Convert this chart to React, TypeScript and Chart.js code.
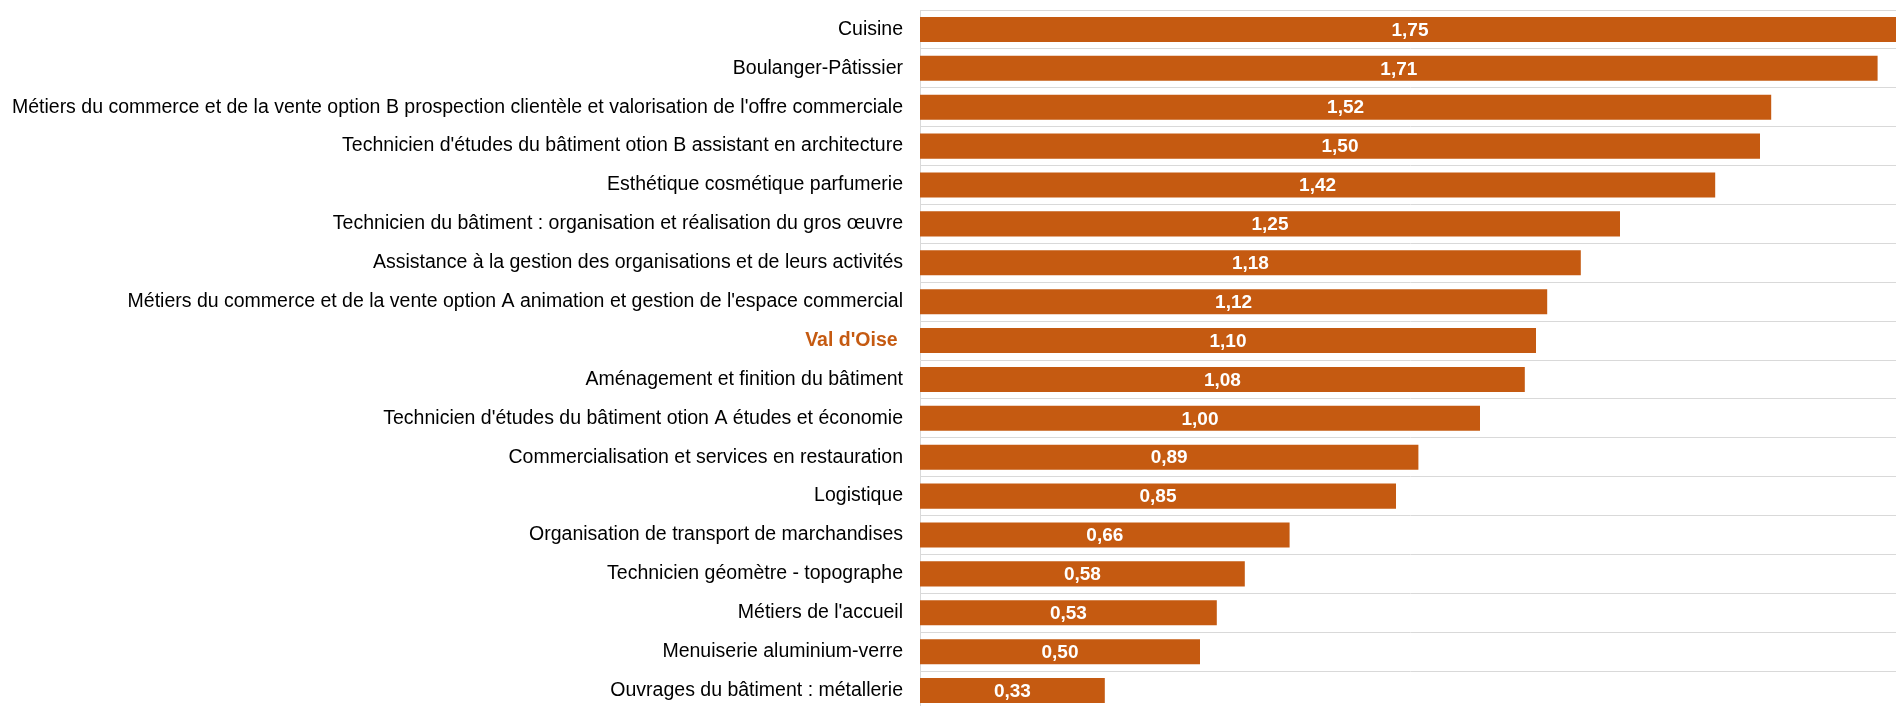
import React, { useEffect, useRef } from "react";
import { Chart, registerables } from "chart.js";

Chart.register(...registerables);

const categories: string[] = [
  "Cuisine",
  "Boulanger-Pâtissier",
  "Métiers du commerce et de la vente option B prospection clientèle et valorisation de l'offre commerciale",
  "Technicien d'études du bâtiment otion B assistant en architecture",
  "Esthétique cosmétique parfumerie",
  "Technicien du bâtiment : organisation et réalisation du gros œuvre",
  "Assistance à la gestion des organisations et de leurs activités",
  "Métiers du commerce et de la vente option A animation et gestion de l'espace commercial",
  "Val d'Oise ",
  "Aménagement et finition du bâtiment",
  "Technicien d'études du bâtiment otion A études et économie",
  "Commercialisation et services en restauration",
  "Logistique",
  "Organisation de transport de marchandises",
  "Technicien géomètre - topographe",
  "Métiers de l'accueil",
  "Menuiserie aluminium-verre",
  "Ouvrages du bâtiment : métallerie",
];

const values: number[] = [
  1.75, 1.71, 1.52, 1.5, 1.42, 1.25, 1.18, 1.12, 1.1, 1.08, 1.0, 0.89, 0.85,
  0.66, 0.58, 0.53, 0.5, 0.33,
];

const highlightLabel = "Val d'Oise ";
const barColor = "#C55A11";
const FONT = "'Liberation Sans', Arial, sans-serif";

const valueLabelPlugin = {
  id: "valueLabels",
  afterDatasetsDraw(chart: any) {
    const ctx = chart.ctx;
    const meta = chart.getDatasetMeta(0);
    ctx.save();
    ctx.font = `bold 19px ${FONT}`;
    ctx.fillStyle = "#ffffff";
    ctx.textAlign = "center";
    ctx.textBaseline = "middle";
    meta.data.forEach((el: any, i: number) => {
      const v = values[i];
      const cx = (el.x + el.base) / 2;
      ctx.fillText(v.toFixed(2).replace(".", ","), cx, el.y + 1);
    });
    ctx.restore();
  },
};

export default function App() {
  const canvasRef = useRef<HTMLCanvasElement | null>(null);

  useEffect(() => {
    document.body.style.margin = "0";
    document.body.style.overflow = "hidden";
    const canvas = canvasRef.current;
    if (!canvas) return;
    const chart = new Chart(canvas, {
      type: "bar",
      data: {
        labels: categories,
        datasets: [
          {
            data: values,
            backgroundColor: barColor,
            borderWidth: 0,
            categoryPercentage: 1,
            barPercentage: 0.644,
          },
        ],
      },
      options: {
        indexAxis: "y",
        animation: false,
        responsive: false,
        maintainAspectRatio: false,
        layout: { padding: { top: 10, right: 0, bottom: 10, left: 0 } },
        plugins: {
          legend: { display: false },
          tooltip: { enabled: false },
        },
        scales: {
          x: {
            display: false,
            min: 0,
            max: 1.75,
          },
          y: {
            afterFit(scale: any) {
              scale.width = 920;
            },
            grid: {
              display: true,
              color: "#d9d9d9",
              lineWidth: 1,
              drawTicks: true,
              tickLength: 17,
              tickColor: "rgba(0,0,0,0)",
              offset: true,
            },
            border: { display: true, color: "#d9d9d9", width: 1 },
            ticks: {
              padding: 0,
              autoSkip: false,
              color: (c: any) =>
                categories[c.index] === highlightLabel ? barColor : "#000000",
              font: (c: any) => ({
                family: FONT,
                size: 19.5,
                lineHeight: 1,
                weight: categories[c.index] === highlightLabel ? "bold" : "normal",
              }),
            },
          },
        },
      },
      plugins: [valueLabelPlugin],
    });
    return () => chart.destroy();
  }, []);

  return (
    <div style={{ position: "absolute", left: 0, top: 0, width: 1900, height: 720 }}>
      <canvas ref={canvasRef} width={1900} height={720} style={{ display: "block" }} />
    </div>
  );
}
